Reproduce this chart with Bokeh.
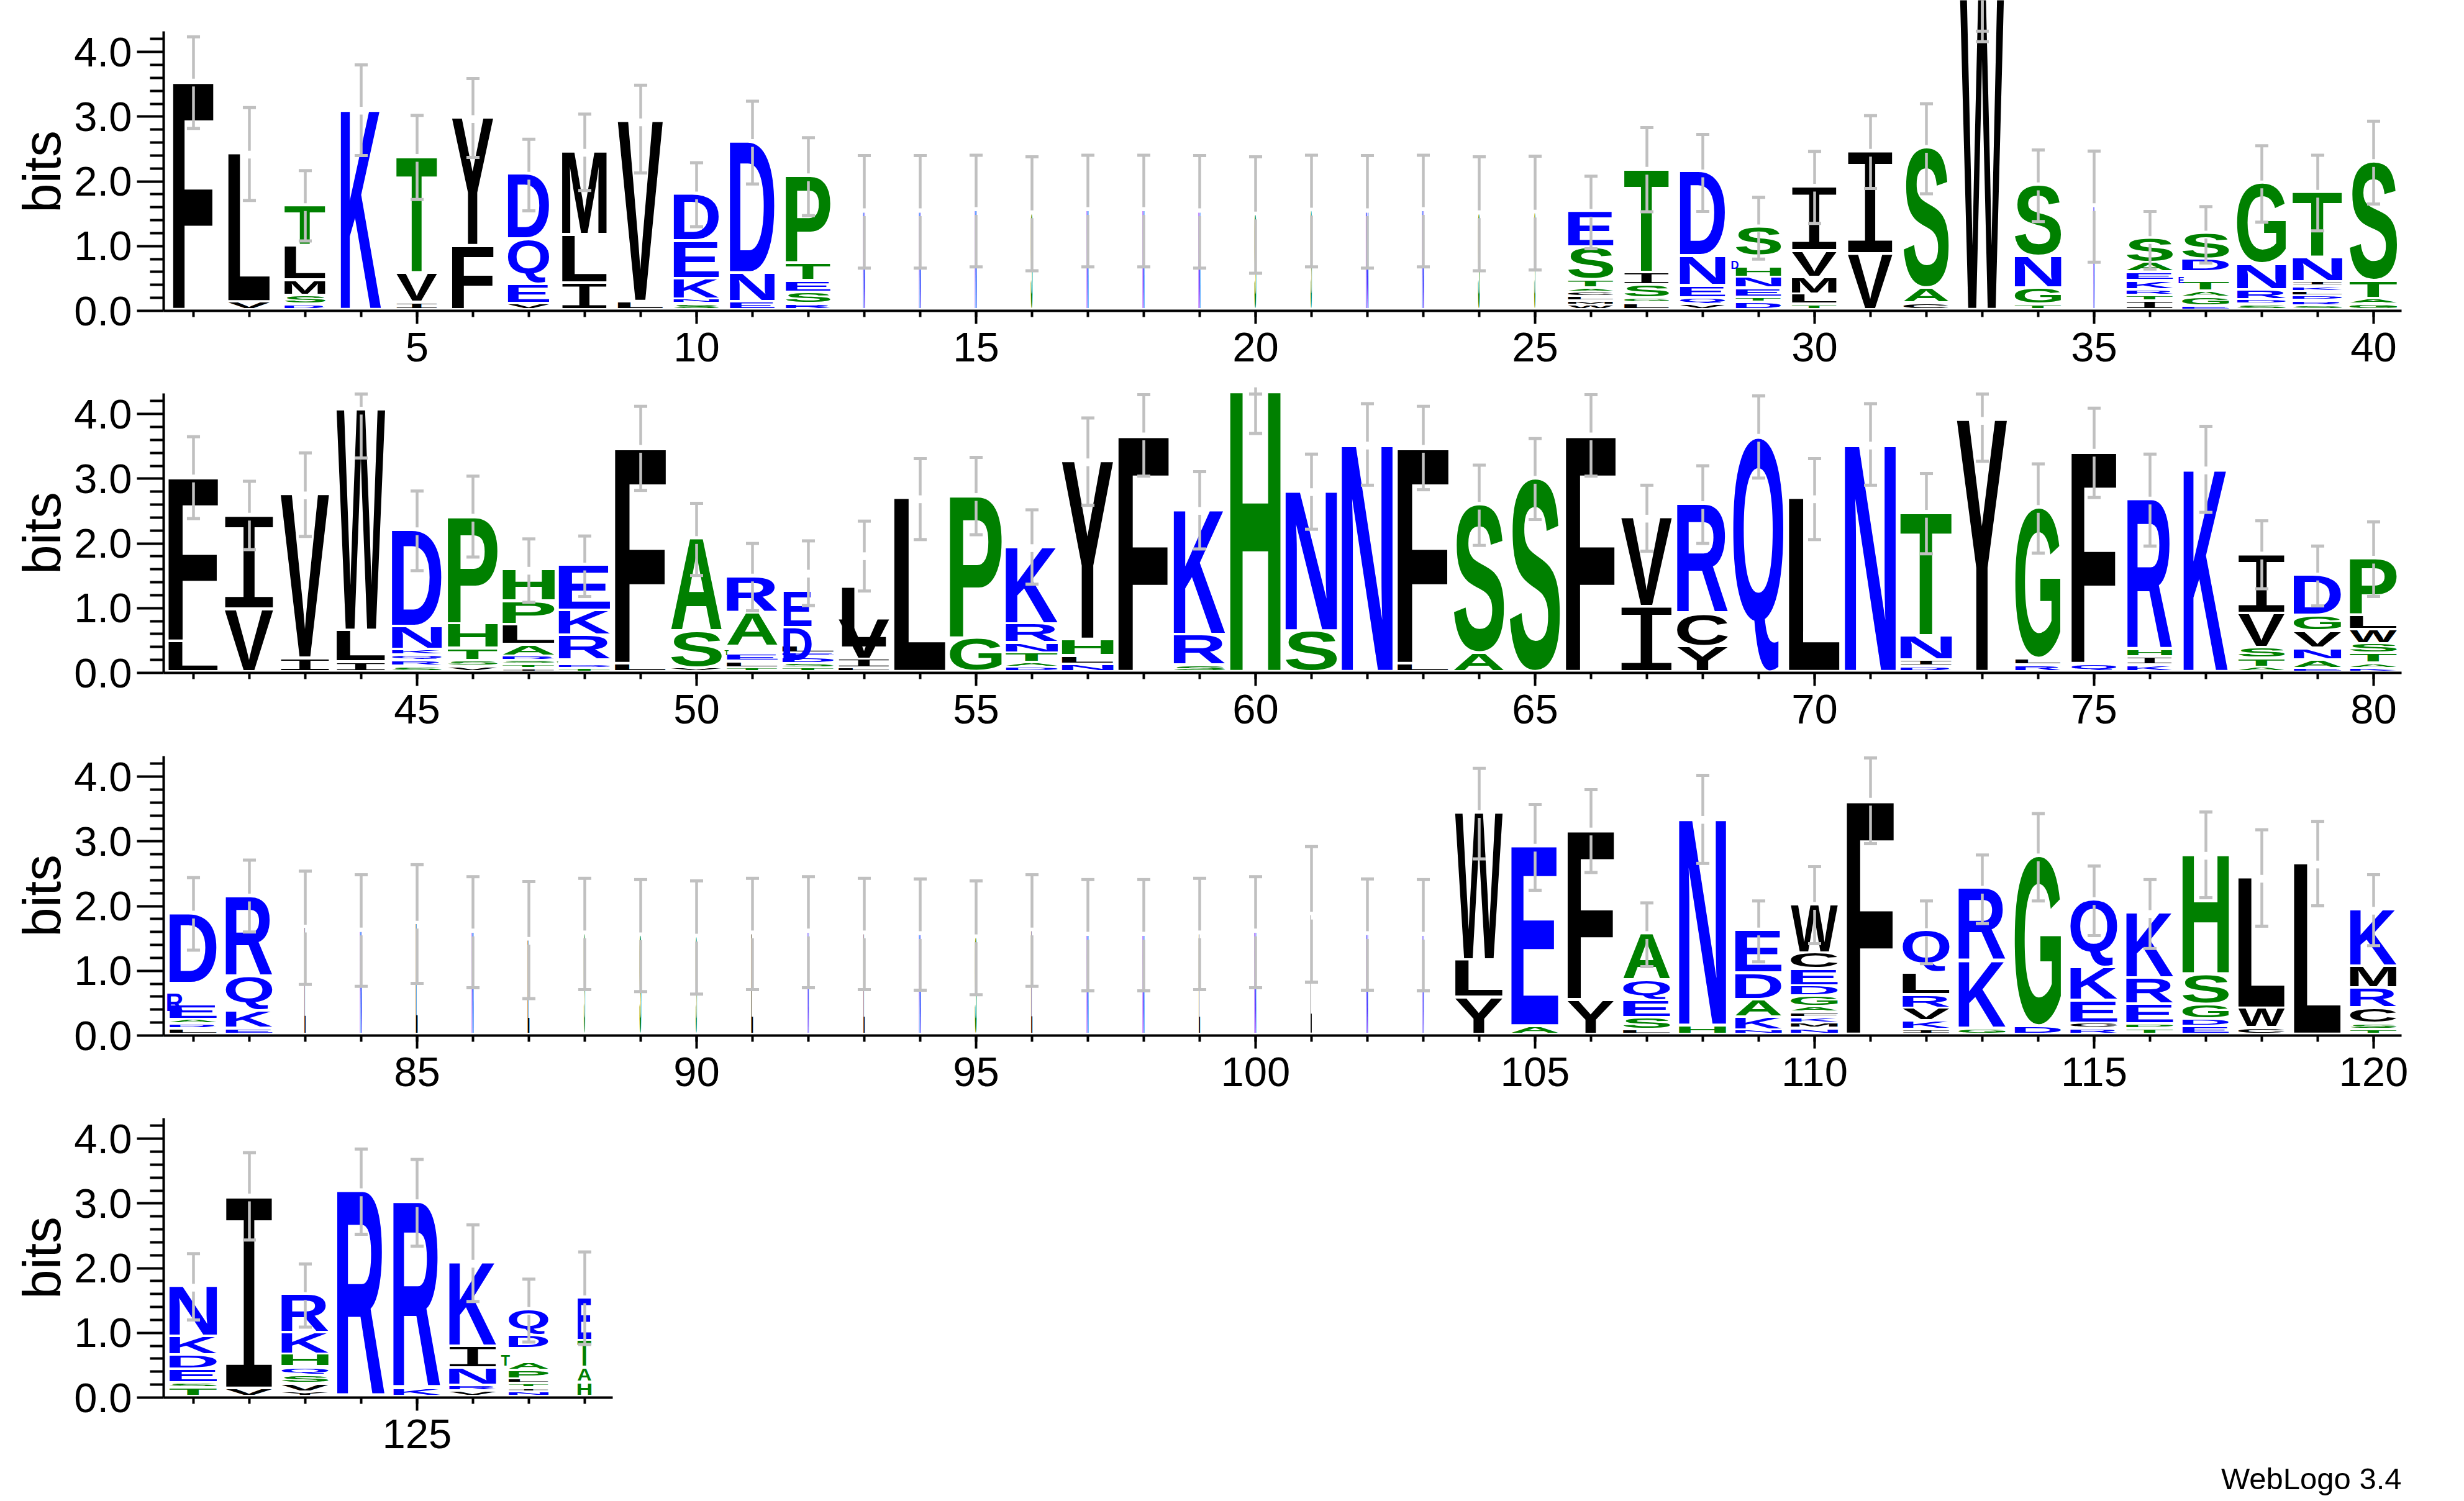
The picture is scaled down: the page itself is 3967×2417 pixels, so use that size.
from bokeh.plotting import figure, curdoc
from bokeh.layouts import column
from bokeh.models import ColumnDataSource, Range1d, FixedTicker, PrintfTickFormatter, Title, CustomJS
from bokeh.core.properties import value, field
from bokeh.events import DocumentReady
from bokeh.embed import file_html
from bokeh.resources import INLINE

# ---------- data: letters bottom to top, cumulative stack tops in bits ----------
letters_r1 = ["F","VL","RSMLT","K","IVT","FY","VEQD","ILM","LV","SNKED","END","RSETP",
              "N","N","N","S","N","N","N","S","S","N","N","S","S",
              "WMLCATSE","LGSIT","VQEND","DTENHDS","TLMVI","VI","CAS","W","TGNS","N",
              "ITRKEAS","EGATEDS","SDRNG","SRDLKINT","GATS"]
tops_r1 = [[3.535],[.12,2.42],[.08,.22,.46,.995,1.61],[3.10],[.115,.57,2.37],[.99,2.97],
           [.095,.39,1.09,2.095],[.415,1.16,2.45],[.125,2.92],[.09,.16,.48,1.06,1.79],
           [.125,.57,2.60],[.09,.27,.45,.72,2.07],
           [1.53],[1.53],[1.55],[1.50],[1.55],[1.55],[1.53],[1.48],[1.54],[1.53],[1.55],[1.50],[1.51],
           [.07,.13,.20,.28,.33,.46,.97,1.52],[.10,.18,.38,.57,2.17],[.085,.185,.37,.83,2.13],
           [.11,.19,.33,.50,.665,.83,1.28],[.08,.24,.50,.91,1.91],[.86,2.45],[.10,.335,2.51],
           [4.9],[.08,.33,.83,1.93],[1.61],[.13,.22,.31,.45,.58,.725,1.10],
           [.05,.19,.29,.44,.585,.78,1.185],[.08,.155,.31,.71,1.96],
           [.06,.14,.21,.28,.36,.43,.80,1.815],[.085,.175,.45,2.29]]
up_r1 = [4.234,3.14,2.167,3.80,3.02,3.59,2.65,3.04,3.485,2.29,3.24,2.675,
         2.40,2.40,2.405,2.38,2.405,2.405,2.40,2.38,2.405,2.40,2.405,2.38,2.39,
         2.08,2.83,2.725,1.755,2.465,3.015,3.20,4.32,2.485,2.47,1.535,1.61,2.55,2.405,2.93]
low_r1 = [2.82,1.705,1.08,2.40,1.72,2.37,1.545,1.86,2.13,1.30,1.96,1.47,
          .66,.66,.68,.62,.68,.68,.66,.58,.68,.66,.68,.62,.63,
          .96,1.53,1.535,.80,1.35,1.89,1.81,4.16,1.38,.75,.645,.74,1.37,1.235,1.65]
width_r1 = [.72,.745,.73,.72,.73,.74,.74,.80,.81,.81,.80,.80,
            .03,.03,.03,.03,.03,.03,.03,.03,.02,.04,.03,.03,.02,
            .81,.80,.81,.81,.80,.80,.81,.79,.83,.02,.83,.84,.875,.885,.85]

letters_r2 = ["LF","VI","IV","ILW","SRQKND","VSTHP","ITSRALPH","TDTRKE","LF","VSA","TLETAR","TSDELDE","LIVL",
              "L","GP","DATNRK","NLHY","F","SRK","H","SN","N","LF","AS","S","F",
              "IV","YCR","Q","L","N","RINT","Y","RLG","QF","KIHR","K","ATSVI","EANVGD","KATSWLP"]
tops_r2 = [[.47,3.01],[.965,2.42],[.21,2.75],[.15,.64,4.06],[.08,.17,.255,.34,.70,2.195],
           [.08,.17,.36,.74,2.405],[.05,.11,.17,.24,.42,.725,1.09,1.585],[.05,.115,.18,.565,.95,1.65],
           [.125,3.47],[.06,.625,2.06],[.055,.16,.275,.39,.915,1.48],[.055,.125,.23,.29,.40,.95,1.54],
           [.055,.195,.82,1.81],[2.69],[.52,2.725],[.07,.145,.29,.445,.74,1.935],[.115,.245,.50,3.26],
           [3.66],[.10,.575,2.51],[4.36],[.63,2.80],[3.52],[.125,3.47],[.29,2.59],[2.99],[3.66],
           [1.01,2.39],[.39,.90,2.60],[3.64],[2.69],[3.52],[.08,.18,.555,2.465],[3.90],[.10,.205,2.54],
           [.125,3.41],[.10,.225,.34,2.67],[3.135],[.07,.21,.37,.90,1.82],[.05,.185,.365,.625,.87,1.495],
           [.05,.13,.28,.43,.65,.87,1.755]]
up_r2 = [3.65,2.96,3.40,4.31,2.81,3.04,2.07,2.115,4.12,2.62,2.00,2.04,2.345,
         3.31,3.33,2.52,3.94,4.30,3.11,4.31,3.38,4.16,4.12,3.21,3.62,4.30,
         2.90,3.20,4.28,3.31,4.16,3.08,4.31,3.23,4.09,3.38,3.81,2.35,1.96,2.335]
low_r2 = [2.385,1.905,2.11,3.32,1.58,1.79,1.09,1.18,2.82,1.505,.96,1.04,1.265,
          2.06,2.135,1.37,2.59,3.04,1.915,3.70,2.22,2.90,2.83,1.97,2.37,3.04,
          1.88,2.00,3.01,2.06,2.90,1.84,3.27,1.85,2.71,1.96,2.48,1.30,1.035,1.18]
width_r2 = [.885,.87,.87,.87,.89,.89,.93,.92,.91,.91,.91,.92,.91,
            .92,.93,.93,.92,.90,.92,.90,.92,.91,.91,.90,.90,.89,
            .91,.91,.90,.91,.91,.92,.90,.81,.80,.80,.79,.83,.85,.84]

letters_r3 = ["LRAERD","EKQR","L","N","L","N","L","S","S","S","L","N","L","N","S","L","N","N","L","N","L","N","N",
              "YLW","AE","YF","LSEQA","HN","NKADE","NMKFAGDECW","F","IKVRLQ","GKR","DG","RCEKQ","TPERK","EDGSH","CWL","L","TSCRMK"]
tops_r3 = [[.083,.16,.23,.47,.785,1.875],[.09,.36,.895,2.14],
           [1.66],[1.615],[1.72],[1.60],[1.47],[1.57],[1.54],[1.52],[1.57],[1.60],[1.57],[1.56],[1.51],
           [1.615],[1.55],[1.55],[1.57],[1.60],[1.86],[1.56],[1.55],
           [.57,1.15,3.43],[.13,2.91],[.535,3.16],[.07,.255,.525,.84,1.56],[.14,3.34],[.07,.27,.54,.945,1.615],
           [.09,.175,.26,.34,.43,.59,.75,1.01,1.26,2.01],[3.62],[.075,.21,.405,.61,.945,1.605],[.09,1.135,2.26],
           [.13,2.76],[.09,.175,.525,1.04,2.085],[.083,.16,.465,.87,1.885],[.12,.235,.465,.935,2.785],
           [.10,.405,2.43],[2.65],[.075,.165,.405,.72,1.05,1.935]]
up_r3 = [2.44,2.71,2.54,2.485,2.64,2.455,2.38,2.43,2.41,2.39,2.43,2.455,2.43,2.42,2.39,
         2.485,2.41,2.41,2.43,2.455,2.92,2.42,2.41,
         4.13,3.57,3.80,2.05,4.02,2.08,2.61,4.29,2.08,2.79,3.43,2.62,2.41,3.455,3.18,3.31,2.485]
low_r3 = [1.32,1.60,.79,.76,.805,.74,.57,.71,.68,.64,.71,.74,.71,.70,.63,
          .76,.69,.69,.71,.74,.825,.70,.69,
          2.73,2.245,2.52,1.065,2.66,1.14,1.42,2.965,1.11,1.73,2.08,1.545,1.345,2.13,1.69,2.005,1.39]
width_r3 = [.844,.835,.02,.03,.03,.03,.03,.02,.03,.02,.03,.02,.02,.03,.03,
            .02,.03,.03,.02,.03,.02,.03,.02,
            .85,.84,.83,.84,.84,.83,.84,.84,.84,.84,.83,.84,.84,.83,.83,.84,.83]

letters_r4 = ["TSEDKN","VI","YVSQHKR","R","KR","VRNIK","NITLPATDQ","HATE"]
tops_r4 = [[.135,.21,.42,.64,.925,1.705],[.125,3.10],[.07,.20,.33,.455,.65,.98,1.575],[3.18],[.13,3.01],
           [.085,.17,.44,.775,2.075],[.07,.135,.20,.27,.405,.535,.74,.945,1.345],[.215,.445,.865,1.525]]
up_r4 = [2.225,3.785,2.065,3.84,3.68,2.67,1.83,2.25]
low_r4 = [1.20,2.435,1.09,2.525,2.34,1.485,.86,.82]
width_r4 = [.85,.83,.84,.85,.84,.84,.71,.245]

first_col = [1, 41, 81, 121]
major_x = [[5,10,15,20,25,30,35,40],[45,50,55,60,65,70,75,80],
           [85,90,95,100,105,110,115,120],[125]]
major_y = [0,1,2,3,4]
minor_y = [.2,.4,.6,.8,1.2,1.4,1.6,1.8,2.2,2.4,2.6,2.8,3.2,3.4,3.6,3.8,4.2]
y_top = 4.32
y_label = "bits"
footer = "WebLogo 3.4"

BLUE, GREEN, BLACK = "#0000ff", "#008000", "#000000"
palette = {**{c: BLUE for c in "KRDENQ"}, **{c: GREEN for c in "TSGHPA"}, **{c: BLACK for c in "FLMIVWYC"}}

rows = [(letters_r1, tops_r1, up_r1, low_r1, width_r1),
        (letters_r2, tops_r2, up_r2, low_r2, width_r2),
        (letters_r3, tops_r3, up_r3, low_r3, width_r3),
        (letters_r4, tops_r4, up_r4, low_r4, width_r4)]

# ---------- layout ----------
PX_COL = 90.0
PX_BIT = 104.2
LEFT = 263
AXIS_OFF = 3 / PX_COL
FRAME_W = 3603
GAP = 0.04
CAP = 0.72
frame_h = [500, 465, 465, 465]
below = [118, 119, 118, 155]
label_shift = [-26, -7.5, -7.5, -7.5]
GREY = "#c0c0c0"

figs, sources, starts = [], [], []
for k, (letters, tops, up, low, widths) in enumerate(rows):
    c0 = first_col[k]
    xs = c0 - 0.5 - AXIS_OFF
    starts.append(xs)
    p_row = figure(width=LEFT + FRAME_W + 40, height=frame_h[k] + below[k],
                   frame_width=FRAME_W, frame_height=frame_h[k],
                   x_range=Range1d(xs, xs + FRAME_W / PX_COL),
                   y_range=Range1d(0, frame_h[k] / PX_BIT),
                   toolbar_location=None, output_backend="svg",
                   min_border_left=LEFT, min_border_right=40,
                   min_border_top=0, min_border_bottom=below[k],
                   outline_line_color=None, background_fill_color="white")
    p_row.grid.visible = False

    tx, ty, tt, tc, tf, tw, th = [], [], [], [], [], [], []
    ex0, ey0, ey1, cx0, cx1, cy = [], [], [], [], [], []
    for i, (ls, ts) in enumerate(zip(letters, tops)):
        col = c0 + i
        base = 0.0
        for ch, top in zip(ls, ts):
            ink = max(top - base - GAP, 0.02)
            tx.append(col - 0.5)
            ty.append(top - ink)
            tt.append(ch)
            tc.append(palette[ch])
            tf.append(f"{ink * PX_BIT / CAP:.3f}px")
            tw.append(widths[i])
            th.append(ink)
            base = top
        stack = ts[-1]
        ex0 += [col, col]
        ey0 += [low[i], stack + 0.053]
        ey1 += [stack - 0.067, up[i]]
        cx0 += [col - 0.117, col - 0.117]
        cx1 += [col + 0.117, col + 0.117]
        cy += [low[i], up[i]]

    src = ColumnDataSource(dict(x=tx, y=ty, t=tt, c=tc, f=tf, w=tw, h=th))
    sources.append(src)
    p_row.text(x="x", y="y", text="t", text_color="c", text_font_size=field("f"),
               text_font=value("Liberation Sans"), text_font_style="bold",
               text_align="left", text_baseline="alphabetic", source=src)
    p_row.segment(x0="x", y0="a", x1="x", y1="b", line_color=GREY, line_width=4.5,
                  source=ColumnDataSource(dict(x=ex0, a=ey0, b=ey1)))
    p_row.segment(x0="a", y0="y", x1="b", y1="y", line_color=GREY, line_width=5,
                  source=ColumnDataSource(dict(a=cx0, b=cx1, y=cy)))

    n = len(letters)
    xa = p_row.xaxis[0]
    xa.ticker = FixedTicker(ticks=major_x[k], minor_ticks=list(range(c0, c0 + n)))
    xa.formatter = PrintfTickFormatter(format="%d")
    xa.bounds = (xs, c0 - 0.5 + n)
    ya = p_row.yaxis[0]
    ya.ticker = FixedTicker(ticks=major_y, minor_ticks=minor_y)
    ya.formatter = PrintfTickFormatter(format="%.1f")
    ya.bounds = (0, y_top)
    ya.axis_label = y_label
    ya.axis_label_text_font = "Liberation Sans"
    ya.axis_label_text_font_size = "85px"
    ya.axis_label_text_font_style = "normal"
    ya.axis_label_text_color = "black"
    ya.axis_label_standoff = 1
    for ax, mj, mn, so in ((xa, 21, 10, 14), (ya, 43, 22, 8)):
        ax.axis_line_width = 4
        ax.axis_line_color = "black"
        ax.major_tick_line_width = 4
        ax.minor_tick_line_width = 4
        ax.major_tick_line_color = "black"
        ax.minor_tick_line_color = "black"
        ax.major_tick_in = 0
        ax.minor_tick_in = 0
        ax.major_tick_out = mj
        ax.minor_tick_out = mn
        ax.major_label_standoff = so
        ax.major_label_text_font = "Liberation Sans"
        ax.major_label_text_font_size = "67px"
        ax.major_label_text_color = "black"
    figs.append(p_row)

figs[3].add_layout(Title(text=footer, align="right", text_font="Liberation Sans", text_font_size="49px",
                         text_font_style="normal", text_color="black", standoff=34), "below")

p = column(*figs, spacing=0)

# Stretch each letter of a stack to its column width and height (a sequence logo's letters are anisotropic).
stretch = CustomJS(args=dict(sources=sources, starts=starts, frame_h=frame_h, label_shift=label_shift,
                             LEFT=LEFT, P=PX_COL, B=PX_BIT, y_label=y_label), code="""
const cv = document.createElement('canvas').getContext('2d');
const cache = {};
function metric(ch, font) {
  const key = ch + font;
  if (!cache[key]) {
    cv.font = font;
    const m = cv.measureText(ch);
    cache[key] = {l: m.actualBoundingBoxLeft / 2, r: m.actualBoundingBoxRight / 2,
                  a: m.actualBoundingBoxAscent / 2, d: m.actualBoundingBoxDescent / 2};
  }
  return cache[key];
}
function collect(root, out) {
  root.querySelectorAll('*').forEach(e => {
    if (e.shadowRoot) collect(e.shadowRoot, out);
    if (e.tagName.toLowerCase() === 'svg') out.push(e);
  });
}
function run() {
  const svgs = [];
  collect(document, svgs);
  const groups = [];
  const labels = [];
  svgs.forEach(s => {
    const all = Array.from(s.querySelectorAll('text'));
    const ts = all.filter(t => /^[A-Z]$/.test(t.textContent));
    if (ts.length) {
      groups.push(ts);
      labels.push(all.filter(t => t.textContent === y_label));
    }
  });
  if (groups.length < sources.length) return;
  groups.forEach((ts, r) => {
    labels[r].forEach(t => {
      if (t.__done) return;
      t.__done = true;
      const old = t.getAttribute('transform');
      t.setAttribute('transform', (old ? old + ' ' : '') + 'translate(' + label_shift[r] + ',0)');
    });
    const d = sources[r].data;
    const free = {};
    const used = new Set(ts.filter(t => t.__done).map(t => t.__n));
    for (let n = 0; n < d.t.length; n++) {
      if (used.has(n)) continue;
      const key = Math.round(d.x[n] + 0.25) + '|' + d.t[n];
      (free[key] = free[key] || []).push(n);
    }
    ts.forEach(t => {
      if (t.__done) return;
      const ch = t.textContent;
      const x0 = parseFloat(t.getAttribute('x') || '0');
      const y0 = parseFloat(t.getAttribute('y') || '0');
      const fs = parseFloat(getComputedStyle(t).fontSize);
      const ctm = t.getCTM();
      const ax = ctm.a * x0 + ctm.c * y0 + ctm.e;
      const xd = starts[r] + (ax - LEFT) / P;
      const bucket = free[Math.round(xd + 0.25) + '|' + ch] || [];
      if (!bucket.length) return;
      t.__done = true;
      let best = 0;
      bucket.forEach((idx, q) => {
        if (Math.abs(parseFloat(d.f[idx]) - fs) < Math.abs(parseFloat(d.f[bucket[best]]) - fs)) best = q;
      });
      const n = bucket.splice(best, 1)[0];
      t.__n = n;
      const W = d.w[n] * P, H = d.h[n] * B;
      const Xl = LEFT + (d.x[n] - starts[r]) * P + (P - W) / 2;
      const Yb = frame_h[r] - d.y[n] * B;
      const family = ch === 'I' ? 'Liberation Mono' : 'Liberation Sans';
      const weight = ch === 'I' ? 'normal' : 'bold';
      const m = metric(ch, weight + ' 200px "' + family + '"');
      t.style.fontFamily = '"' + family + '"';
      t.style.fontWeight = weight;
      t.style.fontSize = '100px';
      t.style.textAnchor = 'start';
      t.setAttribute('text-anchor', 'start');
      t.setAttribute('dominant-baseline', 'alphabetic');
      t.setAttribute('x', '0');
      t.setAttribute('y', '0');
      const sx = W / (m.l + m.r), sy = H / (m.a + m.d);
      const tx = Xl + sx * m.l, ty = Yb - sy * m.d;
      t.setAttribute('transform', 'matrix(' + sx + ' 0 0 ' + sy + ' ' + tx + ' ' + ty + ')');
    });
  });
}
run();
let n = 0;
const timer = setInterval(() => { run(); if (++n > 200) clearInterval(timer); }, 50);
""")

curdoc().add_root(p)
curdoc().js_on_event(DocumentReady, stretch)

open("out.html", "w").write(file_html(p, INLINE))
